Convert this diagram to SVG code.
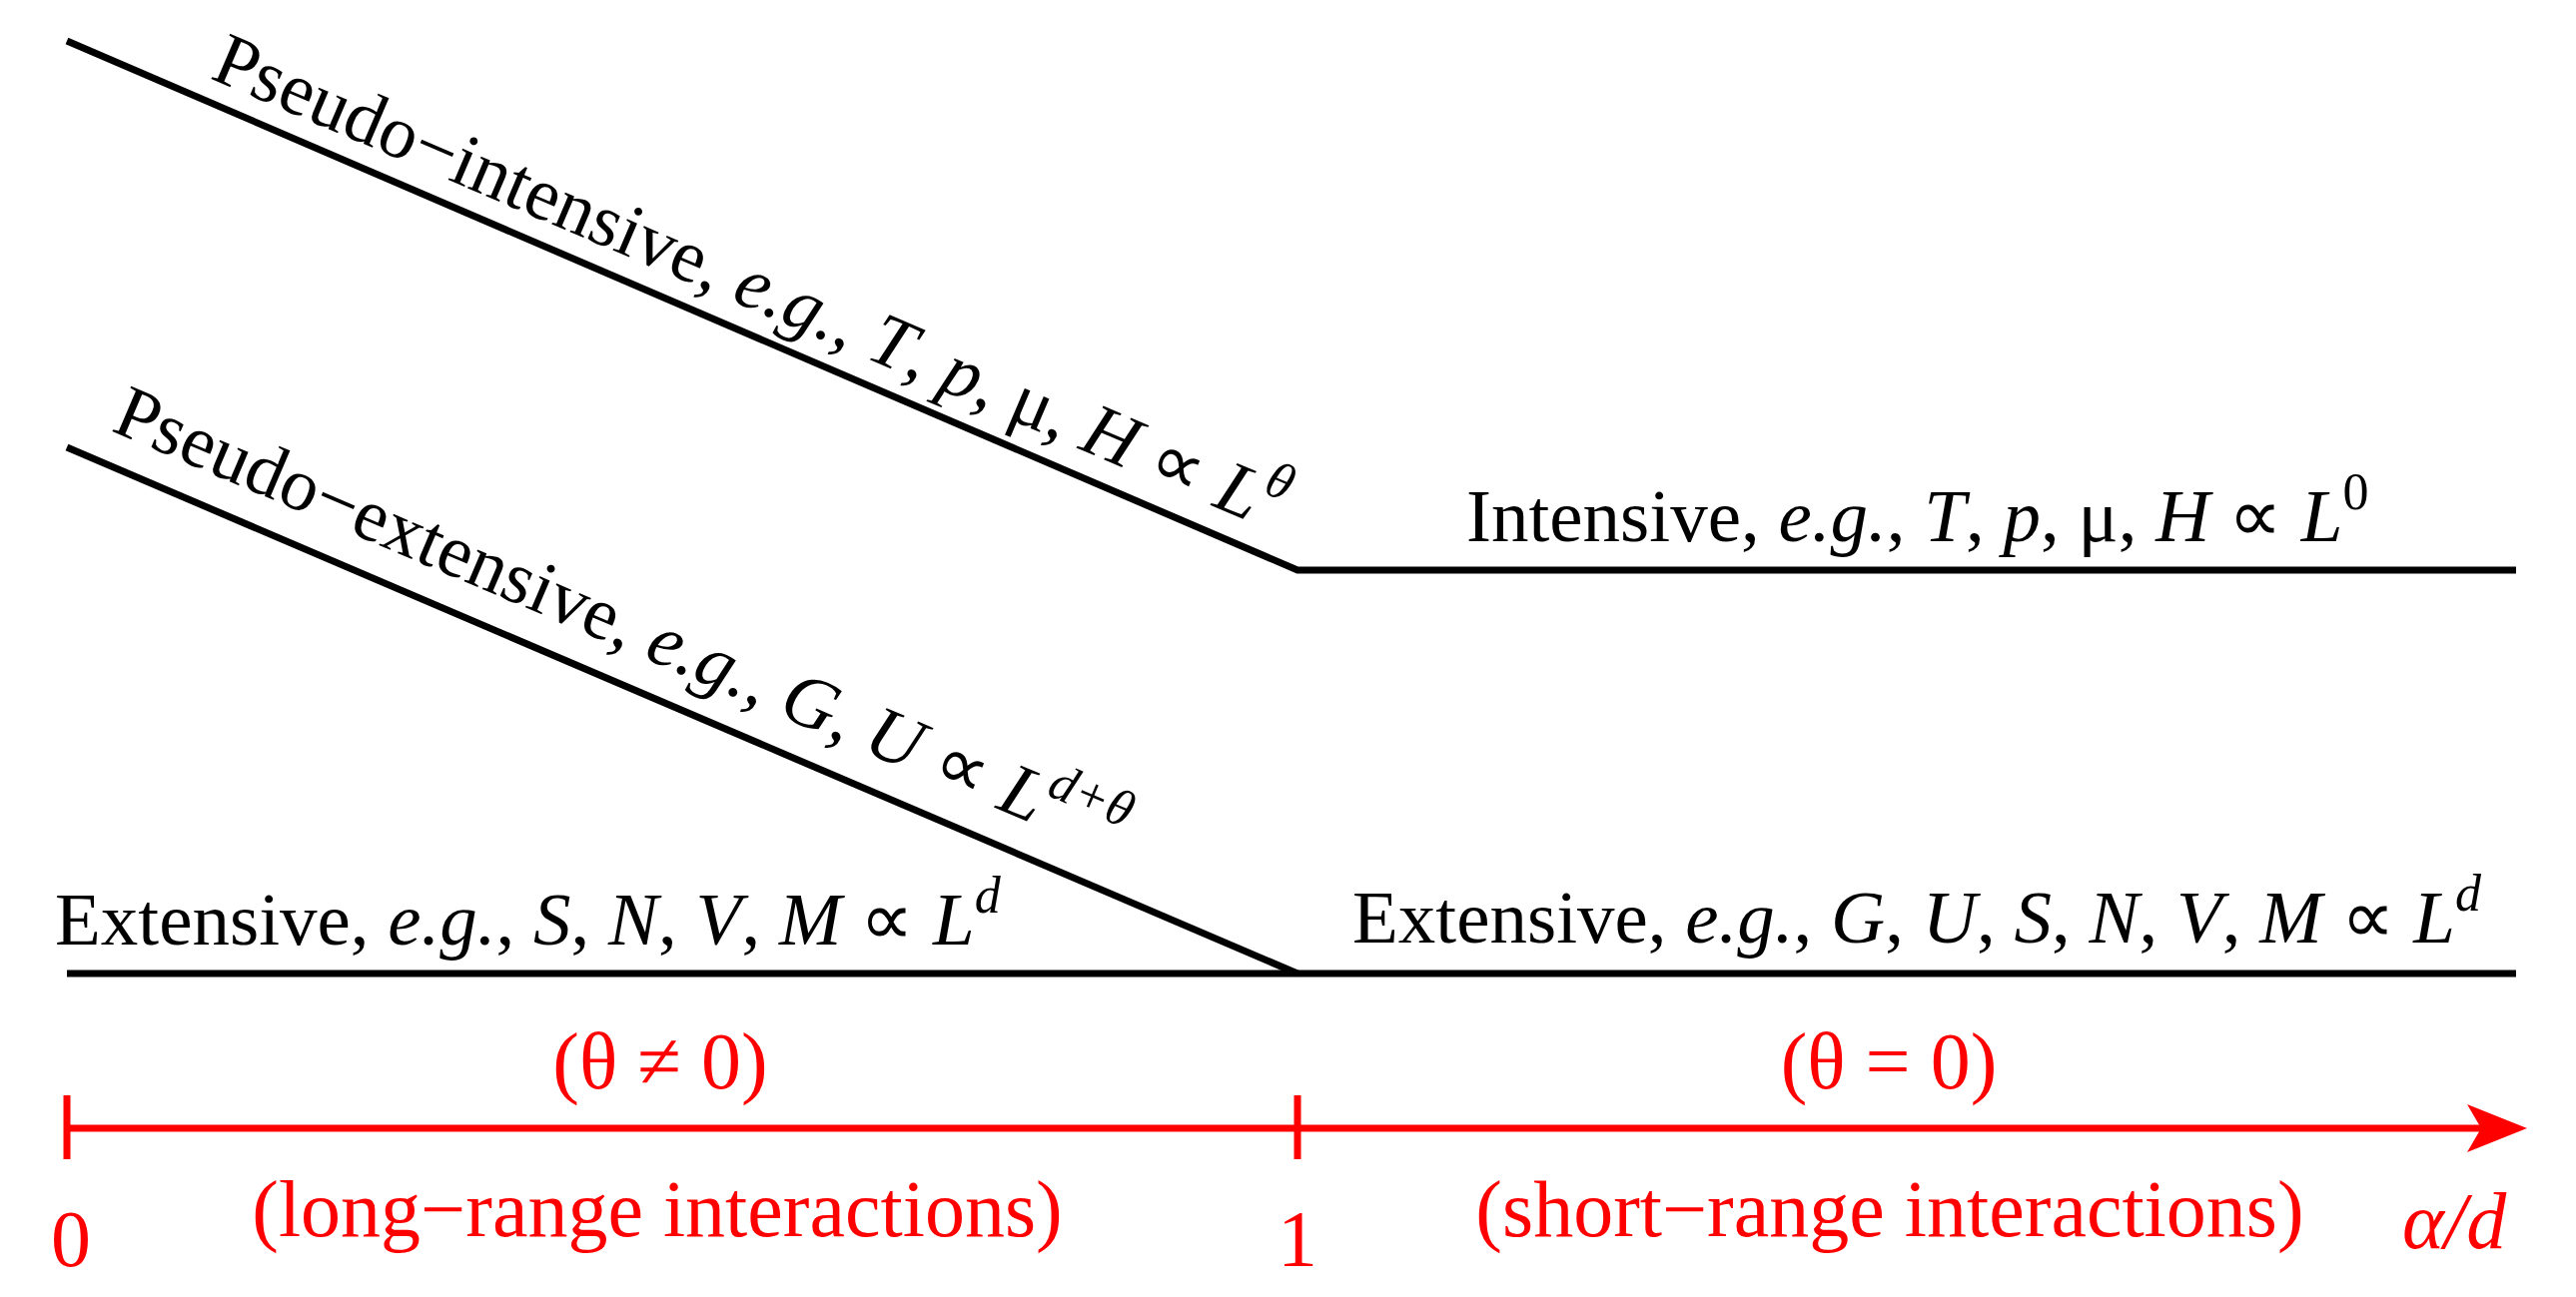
<svg xmlns="http://www.w3.org/2000/svg" width="2579" height="1299" viewBox="0 0 2579 1299">
<style>
text{font-family:"Liberation Serif","Times New Roman",serif;}
.b{font-size:75px;fill:#000}
.r{font-size:80px;fill:#ff0000}
.i{font-style:italic}
.ln{stroke:#000;stroke-width:7;fill:none}
.rl{stroke:#ff0000;stroke-width:7;fill:none}
</style>
<defs><marker id="ah" markerWidth="10" markerHeight="8" refX="9" refY="4" orient="auto" markerUnits="userSpaceOnUse" viewBox="0 0 10 8"><path d="M0,0 L10,4 L0,8 L2,4 Z" fill="#ff0000"/></marker></defs>
<g id="connectors">
<polyline class="ln" points="67,41 1299,571 2519,571"/>
<polyline class="ln" points="67,448 1299,975"/>
<line class="ln" x1="67" y1="975" x2="2519" y2="975"/>
</g>
<g id="axis">
<line class="rl" x1="67" y1="1130" x2="2490" y2="1130"/>
<path d="M2530,1130 L2470,1106 L2484,1130 L2470,1154 Z" fill="#ff0000"/>
<line class="rl" x1="67" y1="1097" x2="67" y2="1161"/>
<line class="rl" x1="1299" y1="1097" x2="1299" y2="1161"/>
</g>
<g id="pseudo-intensive"><text class="b" transform="translate(209,78) rotate(23.1)">Pseudo−intensive, <tspan class="i">e.g.</tspan>, <tspan class="i">T</tspan>, <tspan class="i">p</tspan>, μ, <tspan class="i">H</tspan> ∝ <tspan class="i">L</tspan><tspan class="i" dy="-32" font-size="52">θ</tspan></text></g>
<g id="pseudo-extensive"><text class="b" transform="translate(110,431) rotate(23.1)">Pseudo−extensive, <tspan class="i">e.g.</tspan>, <tspan class="i">G</tspan>, <tspan class="i">U</tspan> ∝ <tspan class="i">L</tspan><tspan class="i" dy="-32" font-size="52">d+θ</tspan></text></g>
<g id="intensive"><text class="b" x="1468" y="542">Intensive, <tspan class="i">e.g.</tspan>, <tspan class="i">T</tspan>, <tspan class="i">p</tspan>, μ, <tspan class="i">H</tspan> ∝ <tspan class="i">L</tspan><tspan dy="-32" font-size="52">0</tspan></text></g>
<g id="extensive-left"><text class="b" x="55" y="946">Extensive, <tspan class="i">e.g.</tspan>, <tspan class="i">S</tspan>, <tspan class="i">N</tspan>, <tspan class="i">V</tspan>, <tspan class="i">M</tspan> ∝ <tspan class="i">L</tspan><tspan class="i" dy="-32" font-size="52">d</tspan></text></g>
<g id="extensive-right"><text class="b" x="1354" y="944">Extensive, <tspan class="i">e.g.</tspan>, <tspan class="i">G</tspan>, <tspan class="i">U</tspan>, <tspan class="i">S</tspan>, <tspan class="i">N</tspan>, <tspan class="i">V</tspan>, <tspan class="i">M</tspan> ∝ <tspan class="i">L</tspan><tspan class="i" dy="-32" font-size="52">d</tspan></text></g>
<g id="labels">
<text class="r" x="661" y="1090" text-anchor="middle">(θ ≠ 0)</text>
<text class="r" x="1891" y="1090" text-anchor="middle">(θ = 0)</text>
<text class="r" x="658" y="1238" text-anchor="middle">(long−range interactions)</text>
<text class="r" x="1892" y="1238" text-anchor="middle">(short−range interactions)</text>
<text class="r" x="71" y="1268" text-anchor="middle" font-size="95">0</text>
<text class="r" x="1299" y="1268" text-anchor="middle" font-size="95">1</text>
<text class="r i" x="2405" y="1250" font-size="100">α/d</text>
</g>
</svg>
